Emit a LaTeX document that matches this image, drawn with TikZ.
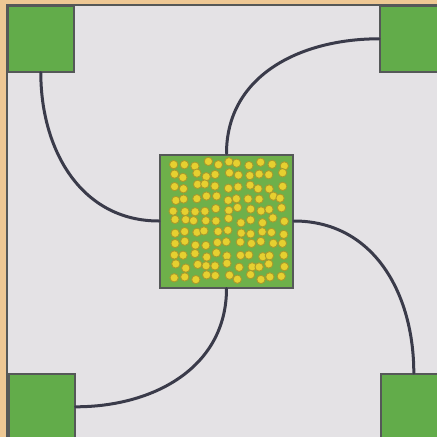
\documentclass[tikz,border=0pt]{standalone}
\usepackage{tikz}
\usetikzlibrary{positioning}

\definecolor{paper}{HTML}{E4E2E5}
\definecolor{tan}{HTML}{EEC894}
\definecolor{leaf}{HTML}{62AC4A}
\definecolor{chip}{HTML}{6EB04A}
\definecolor{edge}{HTML}{555858}
\definecolor{wire}{HTML}{3A3B4A}
\definecolor{seed}{HTML}{E6D030}
\definecolor{seedrim}{HTML}{A89A2C}

\begin{document}
\begin{tikzpicture}[x=1pt, y=-1pt,
    pad/.style={rectangle, draw=edge, line width=1.6pt, fill=leaf, minimum size=66pt, inner sep=0pt},
    core/.style={rectangle, draw=edge, line width=2pt, fill=chip, minimum size=133pt, inner sep=0pt},
    wire/.style={draw=wire, line width=3pt, line cap=round}]
    \useasboundingbox (0,0) rectangle (437,437);
    \fill[tan] (0,0) rectangle (437,437);
    \fill[paper] (7,5) rectangle (437,437);
    \draw[edge, line width=2pt] (7,437) -- (7,5) -- (437,5);

    % corner pads and the centre chip
    \node (tl) [pad, anchor=north west] at (7,5) {};
    \node (tr) [pad, anchor=north west] at (379,5) {};
    \node (bl) [pad, anchor=north west] at (8,373) {};
    \node (br) [pad, anchor=north west] at (380,373) {};
    \node (ctr) [core] at (226.5,221) {};

    % seeds on the chip
    \pgfmathsetseed{7}
    \foreach \i in {0,...,10}
      \foreach \j in {0,...,10} {
        \pgfmathsetmacro\sx{174+\i*10.8+2.6*rand}
        \pgfmathsetmacro\sy{164+\j*11.3+2.6*rand}
        \fill[seed, draw=seedrim, line width=0.9pt] (\sx,\sy) circle (4.2pt);
      }

    % wires
    \draw [wire] (tl.south) to[out=-90, in=180, looseness=1.05] (ctr.west);
    \draw [wire] (ctr.north) to[out=90, in=180, looseness=1.05] (tr.west);
    \draw [wire] (ctr.east) to[out=0, in=90, looseness=1.05] (br.north);
    \draw [wire] (ctr.south) to[out=-90, in=0, looseness=1.05] (bl.east);
\end{tikzpicture}
\end{document}
